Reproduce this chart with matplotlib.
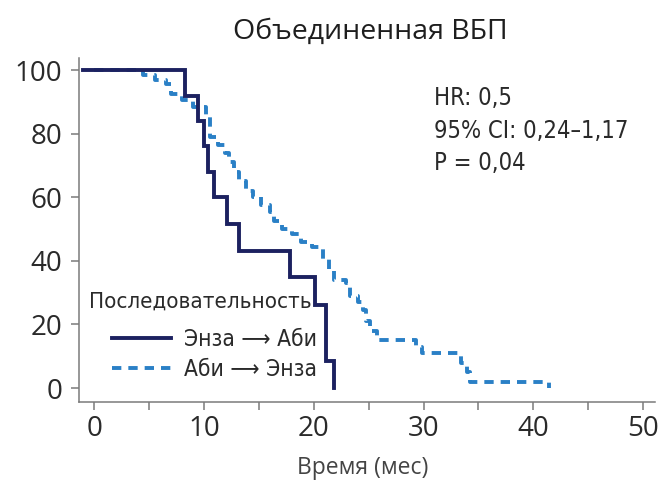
import matplotlib
matplotlib.use("Agg")
import matplotlib.pyplot as plt
from matplotlib import font_manager as fm

# ---- data ----
title = "Объединенная ВБП"
xlabel = "Время (мес)"
legend_title = "Последовательность"
series_labels = ["Энза ⟶ Аби", "Аби ⟶ Энза"]
stats_lines = ["HR: 0,5", "95% CI: 0,24–1,17", "P = 0,04"]

x_major = [0, 10, 20, 30, 40, 50]
x_minor = [5, 15, 25, 35, 45]
y_ticks = [0, 20, 40, 60, 80, 100]

enza_t = [-1.0, 8.3, 9.45, 10.0, 10.4, 10.9, 12.1, 13.2, 17.8, 20.1, 21.1, 21.85]
enza_s = [100, 92, 84, 76, 68, 60, 51.5, 43, 35, 26, 8.5, 0]

abi_t = [0, 4.4, 5.5, 6.5, 7.0, 8.0, 9.0, 10.2, 10.5, 11.3, 11.9, 12.3, 12.7,
         13.2, 13.8, 14.5, 15.2, 16.0, 16.4, 17.1, 18.0, 18.8, 19.8, 20.8,
         21.4, 21.8, 22.9, 23.3, 24.0, 24.5, 24.8, 25.1, 25.8, 29.3, 29.9,
         33.4, 34.0, 34.2, 41.4]
abi_s = [100, 98.5, 97, 95.5, 92.5, 90.5, 88.5, 86, 79, 76.5, 74, 71, 68,
         65, 62, 60, 57.5, 55.5, 52.5, 50, 48.5, 46, 44.5, 40.5,
         37.5, 34, 33, 29, 27, 24.5, 21, 18, 15, 13, 11,
         8, 5, 2, 0]

# ---- styling ----
W, H = 663, 484
main_font = ["Open Sans", "DejaVu Sans"]

# look for an installed condensed face
cond_path = None
for f in fm.fontManager.ttflist:
    if f.name == "DejaVu Sans" and "condensed" in str(f.stretch).lower() \
            and f.weight in (400, "normal") and f.style == "normal":
        cond_path = f.fname
        break
if cond_path is None:
    for f in fm.fontManager.ttflist:
        if "narrow" in f.name.lower() or "condensed" in f.name.lower():
            cond_path = f.fname
            break

if cond_path:
    narrow_name = fm.FontProperties(fname=cond_path).get_name()
    narrow_kw = dict(family=[narrow_name, "DejaVu Sans"], stretch="condensed")
    narrow_size = 16.3
else:
    narrow_kw = dict(family=["Roboto", "DejaVu Sans"])
    narrow_size = 14.5

navy = "#1c2160"
blue = "#2a80c6"
grey = "#7a7a7a"
text_c = "#2a2a2a"

fig = plt.figure(figsize=(W / 100, H / 100), dpi=100)
ax = fig.add_axes([79 / W, 1 - 402 / H, (655 - 79) / W, (402 - 58) / H])
ax.set_xlim(-1.4, 51.1)
ax.set_ylim(-4.4, 103.8)

l_abi, = ax.plot(abi_t, abi_s, drawstyle="steps-post", color=blue, lw=2.8,
                 dashes=(2.4, 1.8), dash_capstyle="butt", zorder=2)
l_enza, = ax.plot(enza_t, enza_s, drawstyle="steps-post", color=navy, lw=2.8,
                  solid_joinstyle="miter", zorder=3)

for s in ["top", "right"]:
    ax.spines[s].set_visible(False)
for s in ["left", "bottom"]:
    ax.spines[s].set_color(grey)
    ax.spines[s].set_linewidth(1.1)

ax.set_xticks(x_major)
ax.set_xticks(x_minor, minor=True)
ax.set_yticks(y_ticks)
ax.tick_params(axis="both", which="both", direction="out", length=6,
               width=1.1, color=grey, labelcolor=text_c, labelsize=20)
ax.tick_params(axis="x", pad=3)
ax.tick_params(axis="y", pad=6)
for lab in ax.get_xticklabels() + ax.get_yticklabels():
    lab.set_family(main_font)

fig.text(370 / W, 1 - 32 / H, title, ha="center", va="center",
         fontsize=20.5, family=main_font, color="#1e1e1e")
fig.text(363 / W, 1 - 468 / H, xlabel, ha="center", va="center",
         fontsize=16.5, family=main_font, color="#444444")

baselines = [105, 138, 170]
for txt, b in zip(stats_lines, baselines):
    fig.text(434 / W, 1 - b / H, txt, ha="left", va="baseline",
             fontsize=narrow_size + 0.7, color=text_c, **narrow_kw)

fig.text(89 / W, 1 - 302 / H, legend_title, ha="left", va="center",
         fontsize=narrow_size - 0.3, color=text_c, **narrow_kw)

prop = fm.FontProperties(size=narrow_size, **narrow_kw)
leg = ax.legend([l_enza, l_abi], series_labels, loc="upper left",
                bbox_to_anchor=(112 / W, 1 - 328 / H),
                bbox_transform=fig.transFigure, frameon=False, borderpad=0,
                borderaxespad=0, handlelength=2.6, handletextpad=0.6,
                labelspacing=0.3, prop=prop)
for t in leg.get_texts():
    t.set_color(text_c)

fig.savefig("out.png", dpi=100)
